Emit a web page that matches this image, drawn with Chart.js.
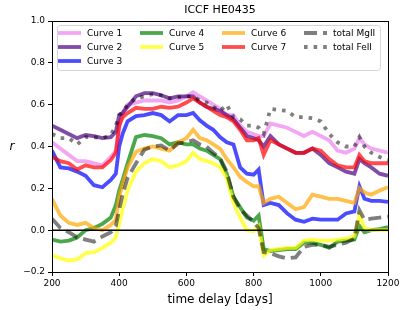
<!DOCTYPE html>
<html>
<head>
<meta charset="utf-8">
<script src="https://cdn.jsdelivr.net/npm/chart.js@4/dist/chart.umd.min.js"></script>
<style>
  body { margin: 0; background: #fff; }
  #wrap { width: 407px; height: 310px; }
</style>
</head>
<body>
<div id="wrap"><canvas id="myChart" width="407" height="310"></canvas></div>
<script>
// time delays (days)
const days = [200, 225, 250, 275, 300, 325, 350, 375, 390, 400, 410, 425, 450, 475, 500, 525, 550, 575, 600, 620,
    640, 660, 680, 700, 720, 740, 760, 780, 800, 815, 830, 850, 875, 900, 925, 950, 975, 1000, 1025, 1050, 1075,
    1100, 1115, 1130, 1150, 1175, 1200];

// ICCF curves
const curve1 = [0.42, 0.39, 0.36, 0.33, 0.33, 0.32, 0.31, 0.35, 0.38, 0.49, 0.56, 0.60, 0.61, 0.62, 0.62, 0.62, 0.61, 0.62, 0.64, 0.66,
    0.64, 0.62, 0.60, 0.58, 0.55, 0.55, 0.50, 0.47, 0.46, 0.45, 0.45, 0.51, 0.50, 0.49, 0.47, 0.45, 0.47, 0.45, 0.43, 0.38, 0.37,
    0.39, 0.44, 0.41, 0.39, 0.38, 0.37];
const curve2 = [0.50, 0.48, 0.46, 0.44, 0.455, 0.45, 0.44, 0.445, 0.47, 0.55, 0.56, 0.59, 0.64, 0.655, 0.655, 0.645, 0.63, 0.64, 0.64, 0.64,
    0.61, 0.59, 0.58, 0.57, 0.55, 0.53, 0.49, 0.45, 0.44, 0.43, 0.40, 0.45, 0.41, 0.39, 0.37, 0.37, 0.39, 0.36, 0.32, 0.30, 0.28,
    0.27, 0.34, 0.32, 0.30, 0.27, 0.26];
const curve3 = [0.38, 0.30, 0.295, 0.28, 0.26, 0.215, 0.205, 0.24, 0.27, 0.40, 0.46, 0.52, 0.545, 0.55, 0.56, 0.55, 0.52, 0.55, 0.55, 0.56,
    0.525, 0.50, 0.48, 0.445, 0.42, 0.41, 0.30, 0.27, 0.265, 0.29, 0.12, 0.13, 0.12, 0.08, 0.05, 0.04, 0.055, 0.05, 0.05, 0.05, 0.08,
    0.09, 0.21, 0.15, 0.14, 0.14, 0.135];
const curve4 = [-0.045, -0.055, -0.05, -0.035, 0.0, 0.01, 0.03, 0.06, 0.12, 0.19, 0.24, 0.32, 0.445, 0.455, 0.45, 0.44, 0.41, 0.42, 0.41, 0.41,
    0.39, 0.38, 0.36, 0.34, 0.27, 0.16, 0.11, 0.06, 0.045, 0.07, -0.09, -0.10, -0.095, -0.09, -0.09, -0.06, -0.06, -0.07, -0.085, -0.055, -0.05,
    -0.045, 0.02, -0.01, 0.0, 0.005, 0.015];
const curve5 = [-0.12, -0.135, -0.145, -0.14, -0.11, -0.105, -0.085, -0.06, -0.035, 0.03, 0.10, 0.19, 0.28, 0.32, 0.34, 0.33, 0.30, 0.31, 0.33, 0.37,
    0.34, 0.33, 0.32, 0.30, 0.25, 0.13, 0.06, 0.0, -0.005, 0.02, -0.12, -0.095, -0.09, -0.085, -0.085, -0.05, -0.045, -0.05, -0.05, -0.045, -0.04,
    -0.03, 0.07, 0.01, 0.0, 0.0, 0.0];
const curve6 = [0.15, 0.07, 0.035, 0.025, 0.035, 0.01, 0.0, 0.025, 0.05, 0.16, 0.22, 0.30, 0.375, 0.39, 0.40, 0.39, 0.38, 0.42, 0.44, 0.48,
    0.44, 0.43, 0.41, 0.39, 0.34, 0.30, 0.255, 0.23, 0.21, 0.21, 0.13, 0.15, 0.16, 0.13, 0.10, 0.11, 0.17, 0.16, 0.15, 0.15, 0.14,
    0.13, 0.20, 0.18, 0.17, 0.19, 0.205];
const curve7 = [0.35, 0.33, 0.32, 0.29, 0.31, 0.30, 0.30, 0.335, 0.37, 0.50, 0.54, 0.56, 0.585, 0.58, 0.58, 0.59, 0.585, 0.59, 0.61, 0.63,
    0.61, 0.59, 0.57, 0.55, 0.54, 0.52, 0.48, 0.43, 0.43, 0.44, 0.36, 0.43, 0.41, 0.39, 0.37, 0.37, 0.39, 0.38, 0.34, 0.31, 0.30,
    0.30, 0.36, 0.33, 0.32, 0.32, 0.32];
const totalMgII = [0.055, 0.01, -0.01, -0.035, -0.045, -0.055, -0.03, -0.01, 0.02, 0.10, 0.17, 0.25, 0.32, 0.385, 0.40, 0.405, 0.38, 0.415, 0.42, 0.43,
    0.41, 0.40, 0.37, 0.345, 0.28, 0.16, 0.10, 0.07, 0.04, 0.01, -0.105, -0.11, -0.125, -0.135, -0.13, -0.08, -0.07, -0.07, -0.08, -0.07, -0.06,
    -0.04, 0.095, 0.05, 0.055, 0.06, 0.065];
const totalFeII = [0.46, 0.44, 0.44, 0.41, 0.445, 0.445, 0.44, 0.455, 0.50, 0.55, 0.565, 0.60, 0.63, 0.64, 0.65, 0.645, 0.63, 0.635, 0.64, 0.64,
    0.62, 0.61, 0.59, 0.57, 0.60, 0.54, 0.53, 0.50, 0.50, 0.49, 0.46, 0.58, 0.575, 0.57, 0.54, 0.54, 0.535, 0.52, 0.46, 0.42, 0.40,
    0.40, 0.445, 0.40, 0.37, 0.35, 0.335];

const seriesNames = ["Curve 1", "Curve 2", "Curve 3", "Curve 4", "Curve 5", "Curve 6", "Curve 7", "total MgII", "total FeII"];
const seriesValues = [curve1, curve2, curve3, curve4, curve5, curve6, curve7, totalMgII, totalFeII];
const seriesColors = ["rgba(238,130,238,0.7)", "rgba(75,0,130,0.7)", "rgba(0,0,255,0.7)", "rgba(0,128,0,0.7)",
    "rgba(255,255,0,0.7)", "rgba(255,165,0,0.7)", "rgba(255,0,0,0.7)", "rgba(0,0,0,0.5)", "rgba(0,0,0,0.5)"];
const seriesDash = [[], [], [], [], [], [], [], [13, 6], [3.6, 6]];

const xTicks = [200, 400, 600, 800, 1000, 1200];
const yTicks = [-0.2, 0.0, 0.2, 0.4, 0.6, 0.8, 1.0];
const titleText = "ICCF HE0435";

Chart.defaults.font.family = "DejaVu Sans";
Chart.defaults.color = "#000";

const datasets = seriesValues.map(function (vals, i) {
    return {
        label: seriesNames[i],
        data: days.map(function (d, j) { return { x: d, y: vals[j] }; }),
        borderColor: seriesColors[i],
        borderWidth: 3.8,
        borderDash: seriesDash[i],
        borderCapStyle: "butt",
        pointRadius: 0,
        tension: 0,
        order: 20 - i
    };
});
// horizontal line at r = 0
datasets.push({
    label: "zero",
    data: [{ x: xTicks[0], y: 0 }, { x: xTicks[xTicks.length - 1], y: 0 }],
    borderColor: "#000",
    borderWidth: 1.5,
    pointRadius: 0,
    order: 0
});

// title over plot centre, legend box inside plot, frame, y label
const extras = {
    id: "extras",
    afterDraw(chart) {
        const ctx = chart.ctx, a = chart.chartArea;
        ctx.save();
        // frame
        ctx.strokeStyle = "#000";
        ctx.lineWidth = 1;
        ctx.strokeRect(Math.round(a.left) + 0.5, Math.round(a.top) + 0.5, Math.round(a.right - a.left), Math.round(a.bottom - a.top));

        // title
        ctx.fillStyle = "#000";
        ctx.font = "11px 'DejaVu Sans'";
        ctx.textAlign = "center";
        ctx.textBaseline = "middle";
        ctx.fillText(titleText, (a.left + a.right) / 2, 10);

        // legend
        const bx = a.left + 5, by = a.top + 4, bw = 323, bh = 45;
        ctx.beginPath();
        ctx.roundRect(bx + 0.5, by + 0.5, bw, bh, 3);
        ctx.fillStyle = "rgba(255,255,255,0.8)";
        ctx.fill();
        ctx.strokeStyle = "#d6d6d6";
        ctx.stroke();
        const cols = [[0, 1, 2], [3, 4], [5, 6], [7, 8]];
        const colX = [1, 83, 165, 247];
        const rowY = [8, 22, 36];
        ctx.font = "9px 'DejaVu Sans'";
        ctx.textAlign = "left";
        cols.forEach(function (col, c) {
            col.forEach(function (k, r) {
                const x0 = bx + colX[c], y0 = by + rowY[r];
                ctx.beginPath();
                ctx.setLineDash(seriesDash[k]);
                ctx.lineCap = "butt";
                ctx.lineWidth = 3.8;
                ctx.strokeStyle = seriesColors[k];
                ctx.moveTo(x0, y0);
                ctx.lineTo(x0 + 23, y0);
                ctx.stroke();
                ctx.setLineDash([]);
                ctx.fillStyle = "#000";
                ctx.fillText(seriesNames[k], x0 + 29, y0 + 0.5);
            });
        });

        // y label
        ctx.font = "italic 12px 'DejaVu Sans'";
        ctx.textAlign = "center";
        ctx.fillText("r", 12, (a.top + a.bottom) / 2);
        ctx.restore();
    }
};

const config = {
    type: "line",
    data: { datasets: datasets },
    options: {
        responsive: false,
        animation: false,
        layout: { padding: { left: 0, right: 19, top: 21, bottom: 0 } },
        plugins: {
            legend: { display: false },
            tooltip: { enabled: false },
            title: { display: false }
        },
        scales: {
            x: {
                type: "linear",
                min: xTicks[0],
                max: xTicks[xTicks.length - 1],
                afterBuildTicks: function (s) { s.ticks = xTicks.map(function (v) { return { value: v }; }); },
                ticks: {
                    font: { size: 9 },
                    color: "#000",
                    padding: 2,
                    maxRotation: 0,
                    callback: function (v) { return String(v); }
                },
                grid: { drawOnChartArea: false, tickLength: 4, color: "#000" },
                border: { color: "#000" },
                title: { display: true, text: "time delay [days]", font: { size: 12 }, color: "#000", padding: { top: 0, bottom: 3 } },
                afterFit: function (s) { s.height = 38; }
            },
            y: {
                min: yTicks[0],
                max: yTicks[yTicks.length - 1],
                afterBuildTicks: function (s) { s.ticks = yTicks.map(function (v) { return { value: v }; }); },
                ticks: {
                    font: { size: 9 },
                    color: "#000",
                    padding: 3,
                    callback: function (v) { return v.toFixed(1).replace("-", "\u2212"); }
                },
                grid: { drawOnChartArea: false, tickLength: 4, color: "#000" },
                border: { color: "#000" },
                afterFit: function (s) { s.width = 52; }
            }
        }
    },
    plugins: [extras]
};

const myChart = new Chart(document.getElementById("myChart"), config);
</script>
</body>
</html>
